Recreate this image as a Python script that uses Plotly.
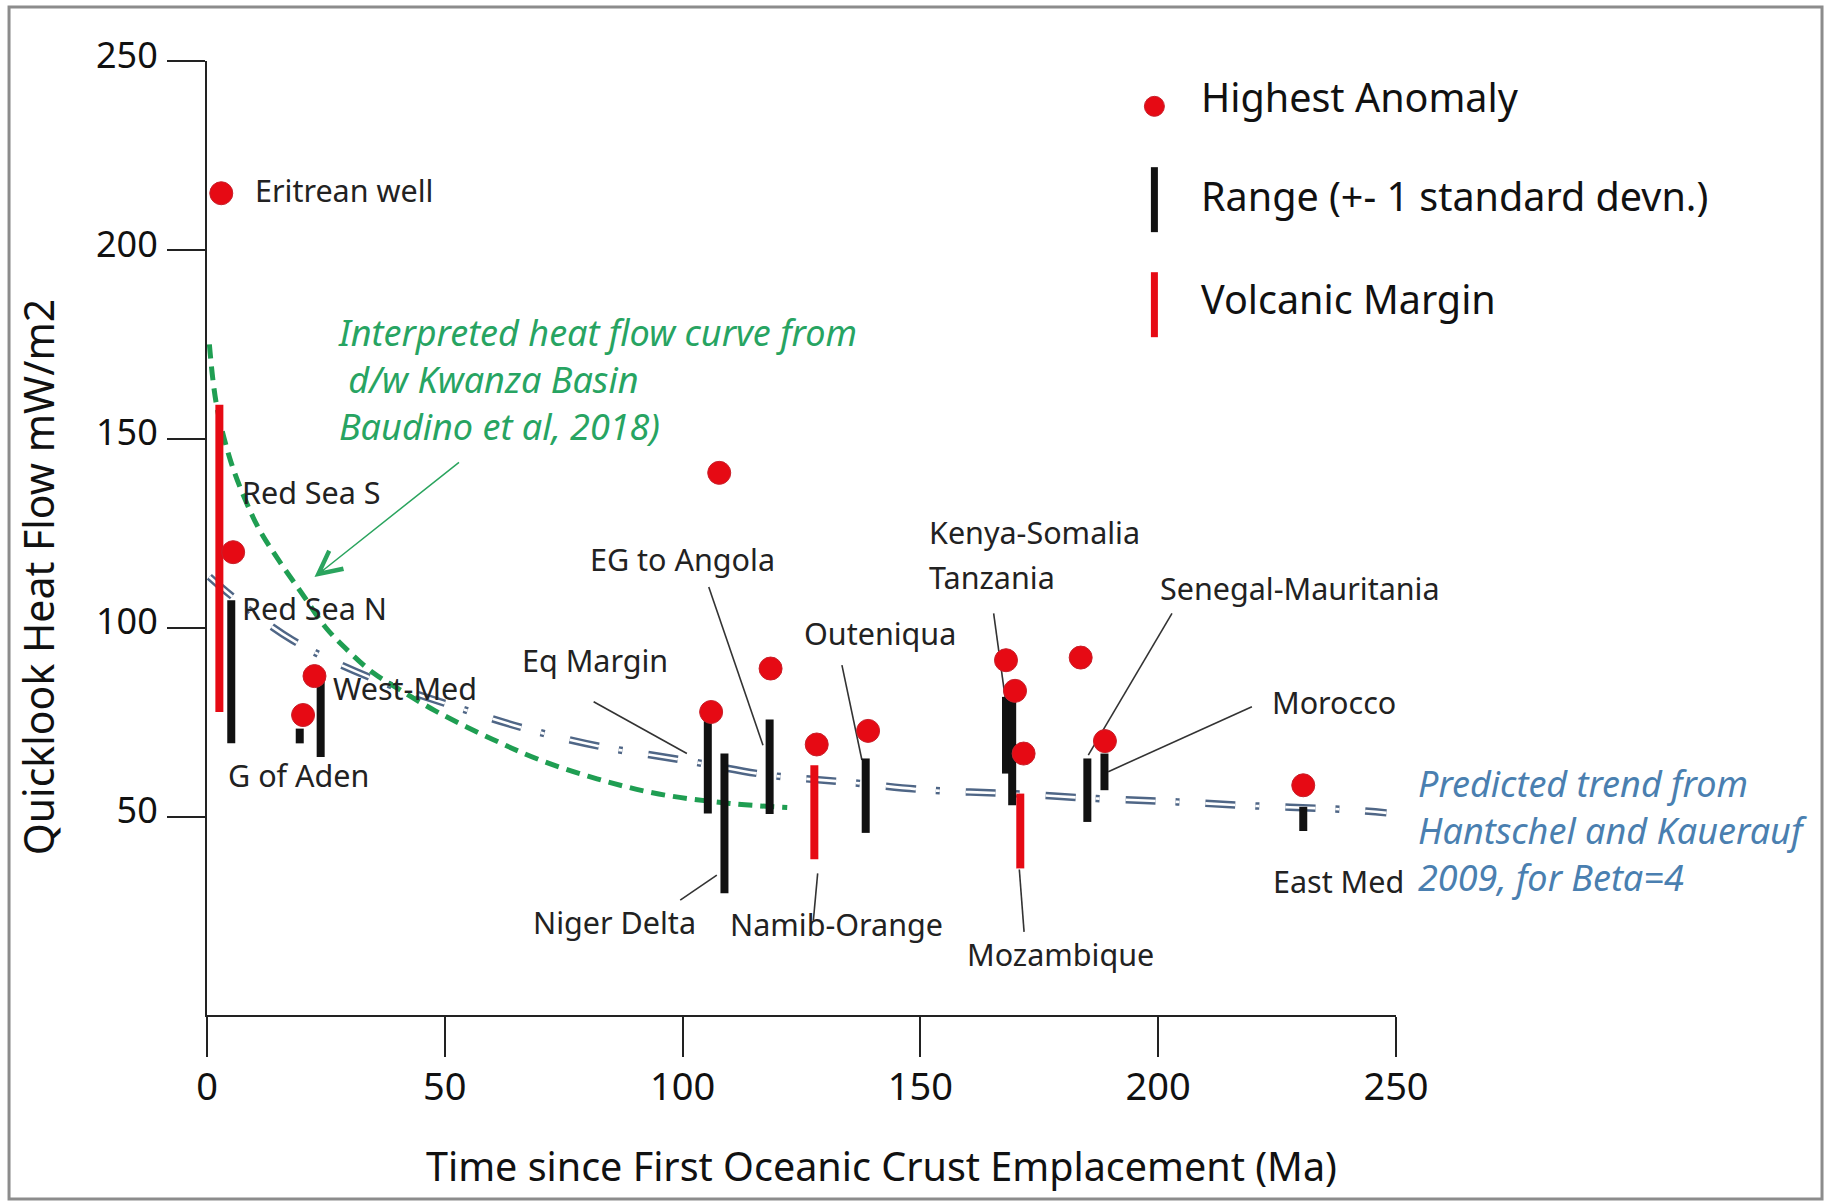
import plotly.graph_objects as go

# ---------------- data ----------------
x_ticks = [0, 50, 100, 150, 200, 250]
y_ticks = [50, 100, 150, 200, 250]

# Highest anomaly (red dots)
anomaly_x = [3.0, 5.5, 20.2, 22.6, 106.0, 107.7, 118.5, 128.2, 139.0, 168.0, 169.9, 171.7, 183.7, 188.8, 230.5]
anomaly_y = [215.0, 120.0, 76.9, 87.2, 77.7, 141.0, 89.2, 69.1, 72.7, 91.4, 83.3, 66.7, 92.1, 70.0, 58.3]

# Range (+- 1 standard deviation) black bars
range_x = [5.1, 19.5, 23.9, 105.3, 108.8, 118.3, 138.5, 168.0, 169.3, 185.1, 188.7, 230.5]
range_low = [69.4, 69.4, 65.8, 50.8, 29.7, 50.7, 45.7, 61.4, 53.0, 48.6, 57.0, 46.2]
range_high = [107.3, 73.3, 88.3, 77.7, 66.7, 75.7, 65.4, 81.7, 81.7, 65.4, 66.7, 52.6]

# Volcanic margin red bars
volc_x = [2.6, 127.7, 171.0]
volc_low = [77.7, 38.7, 36.3]
volc_high = [159.0, 63.6, 56.1]

# Interpreted heat flow curve (Kwanza Basin, Baudino et al 2018)
kwanza_x = [0.5, 2, 5, 8, 11, 15, 20, 25, 30, 35, 40, 48, 60, 70, 82, 95, 110, 122]
kwanza_y = [175, 159, 144, 134, 126, 118, 109, 100, 93.5, 88, 84, 78, 70.5, 65, 60, 56, 53.5, 52.4]

# Predicted trend (Hantschel and Kauerauf 2009, Beta=4)
trend_x = [0.5, 5.6, 18, 34, 50, 67, 83, 100, 118, 134, 152, 169, 187, 204, 221, 239, 248]
trend_y = [113.5, 108, 96.7, 87, 80, 73.3, 68.5, 65, 61, 59.2, 57, 56.1, 54.8, 53.9, 52.8, 51.9, 51]

# Region labels
label_text = ["Eritrean well", "Red Sea S", "Red Sea N", "West-Med", "G of Aden", "Eq Margin",
              "EG to Angola", "Outeniqua", "Kenya-Somalia", "Tanzania", "Senegal-Mauritania",
              "Morocco", "East Med", "Niger Delta", "Namib-Orange", "Mozambique"]
label_x = [9.6, 7.0, 7.0, 26.0, 3.9, 65.9, 80.2, 125.2, 151.4, 151.4, 200.0, 223.5, 223.7, 68.2, 109.6, 159.4]
label_y = [215.9, 136.0, 105.2, 84.0, 61.0, 91.4, 118.1, 98.6, 125.4, 113.5, 110.4, 80.4, 33.1, 22.2, 21.5, 13.6]

# Callout leader lines (start x, start y, end x, end y)
callout_x0 = [81.3, 105.5, 133.5, 99.5, 128.4, 170.8, 165.4, 202.9, 219.7]
callout_y0 = [80.4, 110.8, 90.1, 27.9, 35.0, 36.0, 103.8, 103.8, 79.1]
callout_x1 = [100.9, 116.9, 137.7, 107.2, 127.5, 171.8, 167.8, 185.3, 189.5]
callout_y1 = [66.7, 68.9, 65.0, 34.5, 22.6, 19.5, 81.7, 66.3, 61.9]

green_note = ["Interpreted heat flow curve from", "&nbsp;d/w Kwanza Basin", "Baudino et al, 2018)"]
blue_note = ["Predicted trend from", "Hantschel and Kauerauf", "2009, for Beta=4"]

legend_text = ["Highest Anomaly", "Range (+- 1 standard devn.)", "Volcanic Margin"]

FONT = "Noto Sans"
RED = "#e60a14"
BLACK = "#111111"
GREEN = "#1f9e52"
TREND = "#4f6686"


def segments(xs, lo, hi):
    sx, sy = [], []
    for x, a, b in zip(xs, lo, hi):
        sx += [x, x, None]
        sy += [a, b, None]
    return sx, sy


fig = go.Figure()

# Predicted trend: double line made of a thick line with a white core
for col, w in [(TREND, 7.5), ("white", 2.6)]:
    fig.add_trace(go.Scatter(x=trend_x, y=trend_y, mode="lines",
                             line=dict(color=col, width=w, dash="30px,20px,4px,26px", shape="spline"),
                             hoverinfo="skip", showlegend=False))

# Kwanza curve
fig.add_trace(go.Scatter(x=kwanza_x, y=kwanza_y, mode="lines",
                         line=dict(color=GREEN, width=5, dash="14px,8px", shape="spline"),
                         hoverinfo="skip", showlegend=False))

# callouts
cx, cy = [], []
for a, b, c, d in zip(callout_x0, callout_y0, callout_x1, callout_y1):
    cx += [a, c, None]
    cy += [b, d, None]
fig.add_trace(go.Scatter(x=cx, y=cy, mode="lines", line=dict(color="#333333", width=1.6),
                         hoverinfo="skip", showlegend=False))

# range bars
sx, sy = segments(range_x, range_low, range_high)
fig.add_trace(go.Scatter(x=sx, y=sy, mode="lines", line=dict(color=BLACK, width=8),
                         name=legend_text[1], showlegend=False))
# volcanic bars
sx, sy = segments(volc_x, volc_low, volc_high)
fig.add_trace(go.Scatter(x=sx, y=sy, mode="lines", line=dict(color=RED, width=8),
                         name=legend_text[2], showlegend=False))
# anomaly dots
fig.add_trace(go.Scatter(x=anomaly_x, y=anomaly_y, mode="markers",
                         marker=dict(color=RED, size=23, line=dict(color="#c8202a", width=1)),
                         name=legend_text[0], showlegend=False))

# ---- custom legend (top right) ----
leg_x = 199.2
fig.add_trace(go.Scatter(x=[leg_x], y=[238.0], mode="markers",
                         marker=dict(color=RED, size=20, line=dict(color="#c8202a", width=1)),
                         hoverinfo="skip", showlegend=False))
fig.add_trace(go.Scatter(x=[leg_x, leg_x], y=[204.7, 221.9], mode="lines",
                         line=dict(color=BLACK, width=7), hoverinfo="skip", showlegend=False))
fig.add_trace(go.Scatter(x=[leg_x, leg_x], y=[176.9, 194.1], mode="lines",
                         line=dict(color=RED, width=7), hoverinfo="skip", showlegend=False))

annotations = []
for t, y in zip(legend_text, [240.5, 214.3, 187.0]):
    annotations.append(dict(x=208.6, y=y, xref="x", yref="y", text=t, showarrow=False,
                            xanchor="left", yanchor="middle",
                            font=dict(family=FONT, size=39.5, color=BLACK)))

for t, x, y in zip(label_text, label_x, label_y):
    annotations.append(dict(x=x, y=y, xref="x", yref="y", text=t, showarrow=False,
                            xanchor="left", yanchor="middle",
                            font=dict(family=FONT, size=30.5, color="#222222")))

# green note (three lines)
annotations.append(dict(x=27.2, y=165.8, xref="x", yref="y",
                        text="<i>" + "<br>".join(green_note) + "</i>", showarrow=False,
                        xanchor="left", yanchor="middle", align="left",
                        font=dict(family=FONT, size=36, color="#27a462")))

# blue note (three lines, right of the axes)
annotations.append(dict(x=1.0172, y=0.1939, xref="paper", yref="paper",
                        text="<i>" + "<br>".join(blue_note) + "</i>", showarrow=False,
                        xanchor="left", yanchor="middle", align="left",
                        font=dict(family=FONT, size=36, color="#4a7fb0")))

# green arrow
annotations.append(dict(x=22.6, y=113.4, ax=53.3, ay=144.1, xref="x", yref="y",
                        axref="x", ayref="y", text="", showarrow=True, arrowhead=5,
                        arrowsize=3, arrowwidth=1.5, arrowcolor="#2aa45e"))

# axis titles
annotations.append(dict(x=-0.142, y=0.459, xref="paper", yref="paper",
                        text="Quicklook Heat Flow mW/m2", textangle=-90, showarrow=False,
                        xanchor="center", yanchor="middle",
                        font=dict(family=FONT, size=41, color=BLACK)))
annotations.append(dict(x=0.567, y=-0.158, xref="paper", yref="paper",
                        text="Time since First Oceanic Crust Emplacement (Ma)", showarrow=False,
                        xanchor="center", yanchor="middle",
                        font=dict(family=FONT, size=39.5, color=BLACK)))

fig.update_layout(
    width=1829, height=1202,
    margin=dict(l=207, r=433, t=61, b=187, pad=0),
    paper_bgcolor="white", plot_bgcolor="white",
    annotations=annotations,
    shapes=[dict(type="rect", xref="paper", yref="paper", x0=-0.1665, x1=1.3583,
                 y0=-0.1929, y1=1.0566, line=dict(color="#8c8c8c", width=3))],
    xaxis=dict(range=[0, 250], tickvals=x_ticks, ticks="outside", ticklen=40, tickwidth=2,
               tickcolor="#222", showline=True, linecolor="#222", linewidth=2,
               showgrid=False, zeroline=False, ticklabelstandoff=-3,
               tickfont=dict(family=FONT, size=38, color=BLACK)),
    yaxis=dict(range=[-2.5, 250], tickvals=y_ticks, ticks="outside", ticklen=38, tickwidth=2,
               tickcolor="#222", showline=True, linecolor="#222", linewidth=2,
               showgrid=False, zeroline=False, ticklabelstandoff=2, ticklabelshift=-6,
               tickfont=dict(family=FONT, size=36, color=BLACK)),
)

fig.write_html("out.html", config={"displayModeBar": False},
               post_script="document.body.style.margin='0';")
